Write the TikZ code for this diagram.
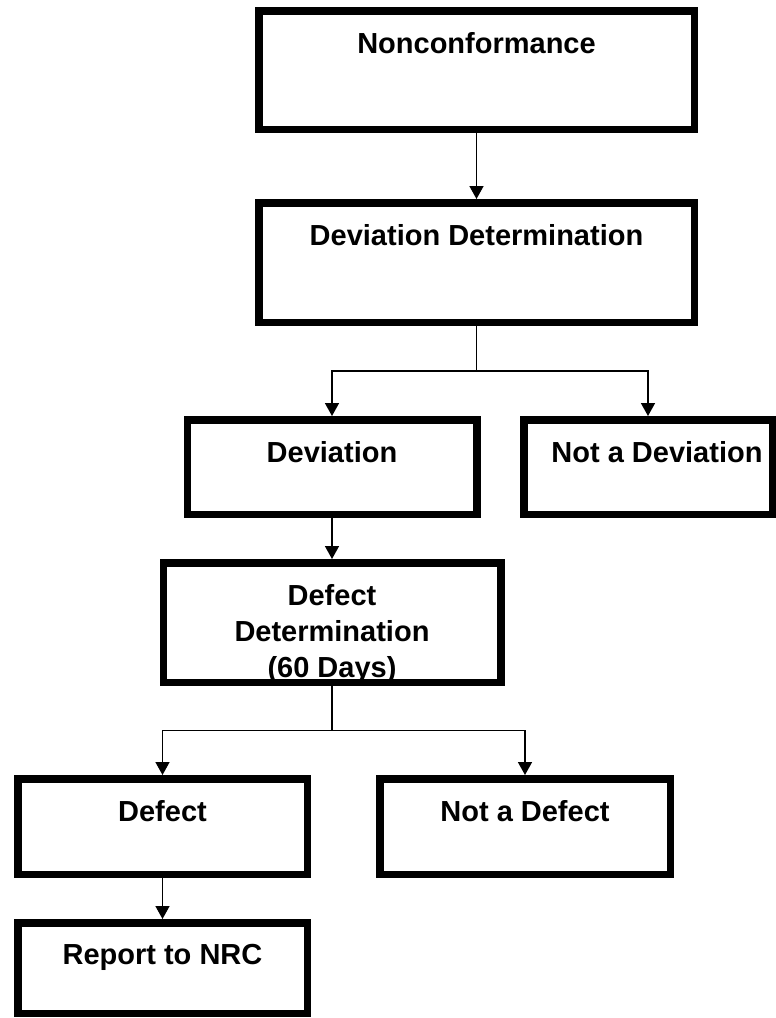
\documentclass[tikz,border=0pt]{standalone}
\usepackage{fontspec}
\setsansfont{Liberation Sans}
\usepackage{tikz}
\usetikzlibrary{arrows.meta}

\tikzset{
  stepbox/.style={draw, line width=7.5pt, inner sep=0pt},
  boxtext/.style={anchor=north, inner sep=0pt, yshift=-25pt, align=center},
  flow/.style={line width=1.6pt, -{Triangle[width=14pt,length=13pt]}}
}

\begin{document}
\begin{tikzpicture}[x=1pt, y=-1pt,
    font=\sffamily\bfseries\fontsize{29}{36}\selectfont]
    \useasboundingbox (0,0) rectangle (776,1018);

    % Top of the chart
    \node[stepbox, minimum width=435.5pt, minimum height=118.5pt,
      label={[boxtext]north:Nonconformance}] (nc) at (476.5,70) {};
    \node[stepbox, minimum width=435.5pt, minimum height=119.5pt,
      label={[boxtext]north:Deviation Determination}] (devdet) at (476.5,262.5) {};

    % Deviation branch
    \node[stepbox, minimum width=289.5pt, minimum height=94.5pt,
      label={[boxtext]north:Deviation}] (dev) at (332,467) {};
    \node[stepbox, minimum width=248.5pt, minimum height=94.5pt,
      label={[boxtext, xshift=9pt]north:Not a Deviation}] (notdev) at (648,467) {};

    % Defect branch
    \node[stepbox, minimum width=337.5pt, minimum height=119.5pt,
      label={[boxtext]north:Defect\\Determination\\(60 Days)}] (defdet) at (332,622.5) {};
    \node[stepbox, minimum width=289.5pt, minimum height=95.5pt,
      label={[boxtext]north:Defect}] (defect) at (162.5,826.5) {};
    \node[stepbox, minimum width=290.5pt, minimum height=95.5pt,
      label={[boxtext]north:Not a Defect}] (notdefect) at (525,826.5) {};
    \node[stepbox, minimum width=289.5pt, minimum height=90.5pt,
      label={[boxtext]north:Report to NRC}] (report) at (162.5,968) {};

    % Connectors
    \draw[flow] (nc) -- (devdet);
    \draw[flow] (devdet.south) -- ++(0,45) -| (dev.north);
    \draw[flow] (devdet.south) -- ++(0,45) -| (notdev.north);
    \draw[flow] (dev) -- (defdet);
    \draw[flow] (defdet.south) -- ++(0,44.5) -| (defect.north);
    \draw[flow] (defdet.south) -- ++(0,44.5) -| (notdefect.north);
    \draw[flow] (defect) -- (report);
\end{tikzpicture}
\end{document}
